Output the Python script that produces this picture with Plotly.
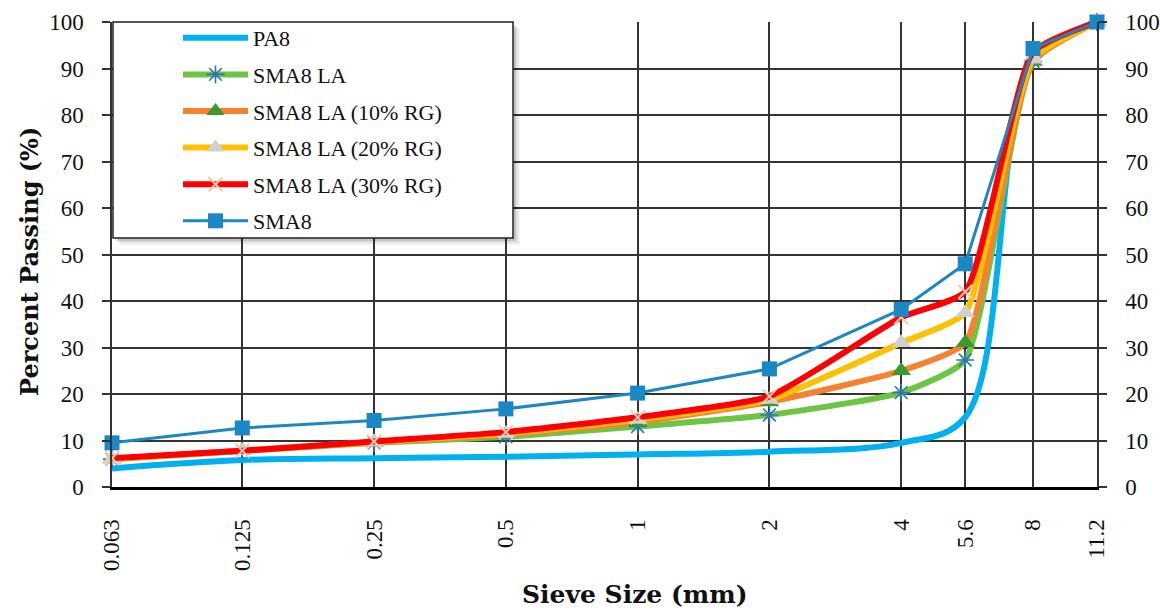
import math
import plotly.graph_objects as go

# Sieve sizes (mm) and percent passing for each mix
sieves = [0.063, 0.125, 0.25, 0.5, 1, 2, 4, 5.6, 8, 11.2]
sieve_labels = ["0.063", "0.125", "0.25", "0.5", "1", "2", "4", "5.6", "8", "11.2"]

pa8 = [4.0, 5.8, 6.2, 6.5, 7.0, 7.6, 9.5, 15.0, 91.0, 100.0]
sma8_la = [6.0, 7.8, 9.5, 10.8, 13.0, 15.5, 20.3, 27.3, 91.5, 100.0]
sma8_la_10 = [6.0, 7.8, 9.6, 11.3, 14.0, 18.3, 25.0, 31.0, 91.5, 100.0]
sma8_la_20 = [6.0, 7.8, 9.7, 11.5, 14.5, 18.8, 31.0, 37.5, 92.0, 100.0]
sma8_la_30 = [6.2, 7.8, 9.8, 11.8, 15.0, 19.5, 36.5, 42.0, 93.5, 100.0]
sma8 = [9.5, 12.7, 14.3, 16.8, 20.2, 25.4, 38.2, 48.0, 94.3, 100.0]

FONT = "Liberation Serif"
TITLE_FONT = "DejaVu Serif"
GRID = "#333333"

# plot-area geometry in pixels
W, H = 1160, 612
L, R, T, B = 112, 63, 22, 125
PW, PH = W - L - R, H - T - B

fig = go.Figure()

series = [
    ("PA8", pa8, "#00B0F0", 6, None),
    ("SMA8 LA", sma8_la, "#6CC644", 6,
     dict(symbol="asterisk-open", size=15, color="#2E75B6", line=dict(color="#2E75B6", width=1.6))),
    ("SMA8 LA (10% RG)", sma8_la_10, "#F7812F", 6,
     dict(symbol="triangle-up", size=17, color="#3A9A2E")),
    ("SMA8 LA (20% RG)", sma8_la_20, "#FFC000", 6,
     dict(symbol="triangle-up", size=17, color="#D0D0D0")),
    ("SMA8 LA (30% RG)", sma8_la_30, "#FF0000", 6,
     dict(symbol="x-thin-open", size=14, color="#F8CBAD", line=dict(color="#F8CBAD", width=2))),
    ("SMA8", sma8, "#1B87C4", 3,
     dict(symbol="square", size=15, color="#1B87C4")),
]

for i, (name, vals, color, width, marker) in enumerate(series):
    is_sma8 = name == "SMA8"
    fig.add_trace(go.Scatter(
        x=sieves, y=vals, name=name, legendgroup=f"g{i}",
        mode="lines" if marker is None else "lines+markers",
        line=dict(color=color, width=width,
                  shape="linear" if is_sma8 else "spline",
                  smoothing=1.0 if i == 0 else 0.5),
        marker=marker, cliponaxis=False,
    ))

# empty trace to carry the mirrored right-hand axis
fig.add_trace(go.Scatter(x=[], y=[], yaxis="y2", showlegend=False, hoverinfo="skip"))


def px_x(p):
    return (p - L) / PW


def px_y(p):
    return (T + PH - p) / PH


# legend frame with a soft drop shadow
x0p, x1p, y0p, y1p = px_x(113), px_x(513), px_y(238), px_y(22)
dx, dy = 1 / PW, 1 / PH
for k, a in [(7, 0.05), (5, 0.08), (3, 0.12)]:
    fig.add_shape(type="rect", xref="paper", yref="paper",
                  x0=x0p + k * dx, x1=x1p + k * dx, y0=y0p - k * dy, y1=y1p - k * dy,
                  line=dict(width=0), fillcolor=f"rgba(0,0,0,{a})", layer="above")
fig.add_shape(type="rect", xref="paper", yref="paper", x0=x0p, x1=x1p, y0=y0p, y1=y1p,
              line=dict(color="#222222", width=1.5), fillcolor="white", layer="above")

# axis titles
fig.add_annotation(text="<b>Sieve Size (mm)</b>", xref="paper", yref="paper",
                   x=px_x(635), y=px_y(594), xanchor="center", yanchor="middle",
                   showarrow=False, font=dict(family=TITLE_FONT, size=25, color="#111111"))
fig.add_annotation(text="<b>Percent Passing (%)</b>", xref="paper", yref="paper",
                   x=px_x(29), y=px_y(262), xanchor="center", yanchor="middle",
                   textangle=-90, showarrow=False,
                   font=dict(family=TITLE_FONT, size=24, color="#111111"))

axis_font = dict(family=FONT, size=23, color="#111111")
fig.update_layout(
    width=W, height=H,
    margin=dict(l=L, r=R, t=T, b=B, autoexpand=False),
    paper_bgcolor="white", plot_bgcolor="white",
    showlegend=True,
    legend=dict(x=px_x(178), y=1.0 + 5 / PH, xanchor="left", yanchor="top",
                bgcolor="rgba(0,0,0,0)", borderwidth=0,
                font=dict(family=FONT, size=22, color="#111111"),
                itemwidth=65, tracegroupgap=5),
    xaxis=dict(
        type="log", range=[math.log10(0.063), math.log10(11.2)],
        tickmode="array", tickvals=sieves, ticktext=sieve_labels,
        tickangle=-90, tickfont=axis_font, ticklabelstandoff=20,
        showgrid=True, gridcolor=GRID, gridwidth=1.5,
        showline=True, linecolor="#000000", linewidth=3,
        ticks="", zeroline=False, automargin=False,
    ),
    yaxis=dict(
        range=[0, 100], dtick=10, tickfont=axis_font,
        showgrid=True, gridcolor=GRID, gridwidth=1.5,
        showline=True, linecolor=GRID, linewidth=1.5,
        ticks="outside", ticklen=8, tickcolor=GRID, tickwidth=1.5,
        ticklabelstandoff=14, zeroline=False, automargin=False,
    ),
    yaxis2=dict(
        overlaying="y", side="right", range=[0, 100], dtick=10, tickfont=axis_font,
        showgrid=False, showline=True, linecolor=GRID, linewidth=1.5,
        ticks="outside", ticklen=8, tickcolor=GRID, tickwidth=1.5,
        ticklabelstandoff=14, zeroline=False, automargin=False,
    ),
)

fig.write_html("out.html")
